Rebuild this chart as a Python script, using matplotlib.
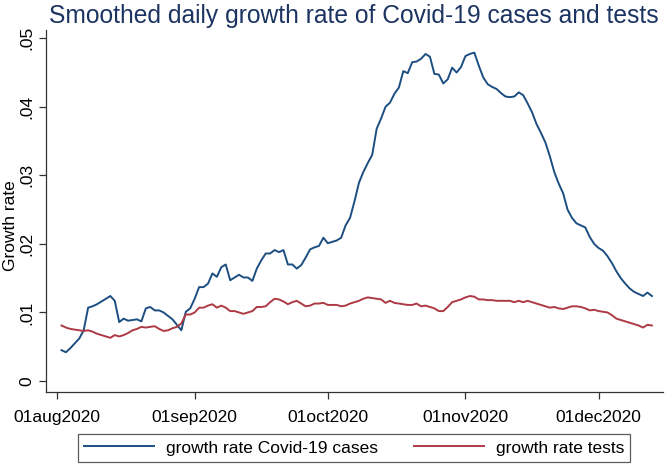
import numpy as np
import pandas as pd
import matplotlib
matplotlib.use('Agg')
import matplotlib.pyplot as plt

plt.rcParams['font.family'] = ['Liberation Sans', 'DejaVu Sans']

# Data (daily, 02aug2020 - 13dec2020)
start_date = '2020-08-02'
cases_growth = [
    0.0045, 0.0042, 0.0048, 0.0055, 0.0062, 0.0074, 0.0107, 0.0109, 0.0112, 0.0116,
    0.0120, 0.0124, 0.0117, 0.0086, 0.0091, 0.0088, 0.0089, 0.0090, 0.0087, 0.0106,
    0.0108, 0.0103, 0.0103, 0.0100, 0.0095, 0.0090, 0.0082, 0.0074, 0.0101, 0.0106,
    0.0120, 0.0137, 0.0137, 0.0142, 0.0157, 0.0152, 0.0166, 0.0170, 0.0147, 0.0151,
    0.0155, 0.0151, 0.0151, 0.0146, 0.0164, 0.0176, 0.0186, 0.0186, 0.0191, 0.0188,
    0.0191, 0.0170, 0.0170, 0.0164, 0.0169, 0.0180, 0.0192, 0.0195, 0.0197, 0.0209,
    0.0201, 0.0203, 0.0205, 0.0209, 0.0227, 0.0238, 0.0262, 0.0289, 0.0305, 0.0318,
    0.0330, 0.0368, 0.0383, 0.0400, 0.0406, 0.0419, 0.0428, 0.0452, 0.0449, 0.0465,
    0.0466, 0.0470, 0.0477, 0.0473, 0.0448, 0.0447, 0.0434, 0.0440, 0.0457, 0.0450,
    0.0458, 0.0474, 0.0477, 0.0479, 0.0460, 0.0443, 0.0433, 0.0429, 0.0426, 0.0420,
    0.0415, 0.0414, 0.0415, 0.0421, 0.0417, 0.0405, 0.0392, 0.0375, 0.0362, 0.0348,
    0.0328, 0.0305, 0.0288, 0.0274, 0.0250, 0.0238, 0.0230, 0.0227, 0.0224, 0.0210,
    0.0200, 0.0194, 0.0190, 0.0182, 0.0172, 0.0160, 0.0150, 0.0142, 0.0135, 0.0130,
    0.0127, 0.0124, 0.0129, 0.0124,
]
tests_growth = [
    0.0081, 0.0078, 0.0076, 0.0075, 0.0074, 0.0073, 0.0074, 0.0072, 0.0069, 0.0067,
    0.0065, 0.0063, 0.0067, 0.0065, 0.0067, 0.0070, 0.0074, 0.0076, 0.0079, 0.0078,
    0.0079, 0.0080, 0.0076, 0.0073, 0.0074, 0.0077, 0.0079, 0.0084, 0.0097, 0.0097,
    0.0100, 0.0107, 0.0107, 0.0110, 0.0112, 0.0107, 0.0110, 0.0107, 0.0102, 0.0102,
    0.0100, 0.0098, 0.0100, 0.0102, 0.0108, 0.0108, 0.0109, 0.0115, 0.0120, 0.0119,
    0.0116, 0.0112, 0.0115, 0.0117, 0.0113, 0.0109, 0.0110, 0.0113, 0.0113, 0.0114,
    0.0111, 0.0111, 0.0111, 0.0109, 0.0110, 0.0113, 0.0115, 0.0117, 0.0120, 0.0122,
    0.0121, 0.0120, 0.0119, 0.0114, 0.0117, 0.0114, 0.0113, 0.0112, 0.0111, 0.0111,
    0.0113, 0.0109, 0.0110, 0.0108, 0.0106, 0.0102, 0.0102, 0.0108, 0.0115, 0.0117,
    0.0119, 0.0122, 0.0124, 0.0123, 0.0119, 0.0119, 0.0118, 0.0118, 0.0117, 0.0117,
    0.0117, 0.0117, 0.0115, 0.0117, 0.0115, 0.0117, 0.0115, 0.0113, 0.0111, 0.0109,
    0.0107, 0.0108, 0.0106, 0.0105, 0.0107, 0.0109, 0.0109, 0.0108, 0.0106, 0.0103,
    0.0104, 0.0102, 0.0101, 0.0100, 0.0096, 0.0091, 0.0089, 0.0087, 0.0085, 0.0083,
    0.0081, 0.0078, 0.0082, 0.0081,
]
x_ticks = ['2020-08-01', '2020-09-01', '2020-10-01', '2020-11-01', '2020-12-01']
x_tick_labels = ['01aug2020', '01sep2020', '01oct2020', '01nov2020', '01dec2020']
y_ticks = [0, 0.01, 0.02, 0.03, 0.04, 0.05]
y_tick_labels = ['0', '.01', '.02', '.03', '.04', '.05']

dates = pd.date_range(start_date, periods=len(cases_growth), freq='D')

fig = plt.figure(figsize=(6.66, 4.67), dpi=100)
ax = fig.add_axes([0.069, 0.1606, 0.9265, 0.7752])

ax.plot(dates, cases_growth, color='#1d4e81', linewidth=1.4, label='growth rate Covid-19 cases')
ax.plot(dates, tests_growth, color='#ad3a44', linewidth=1.4, label='growth rate tests')

ax.set_xlim(pd.Timestamp('2020-07-29 12:00'), pd.Timestamp('2020-12-15 12:00'))
ax.set_ylim(-0.0016, 0.0512)

ax.set_xticks(pd.to_datetime(x_ticks))
ax.set_xticklabels(x_tick_labels, fontsize=12.5)
ax.set_yticks(y_ticks)
ax.set_yticklabels(y_tick_labels, fontsize=12.5, rotation=90, va='center')
ax.tick_params(axis='both', direction='out', length=5, width=0.9, color='#333333')
ax.tick_params(axis='x', pad=8)
ax.tick_params(axis='y', pad=3)

ax.spines['top'].set_visible(False)
ax.spines['right'].set_visible(False)
for s in ['left', 'bottom']:
    ax.spines[s].set_linewidth(0.9)
    ax.spines[s].set_color('#333333')

ax.set_ylabel('Growth rate', fontsize=12.5)
ax.yaxis.set_label_coords(-0.045, 0.46)

fig.text(0.0736, 0.966, 'Smoothed daily growth rate of Covid-19 cases and tests',
         fontsize=17.7, color='#1c3461', va='center', ha='left')

leg = fig.legend(loc='center', bbox_to_anchor=(0.532, 0.0407), ncol=2, fontsize=12.5,
                 frameon=True, fancybox=False, handlelength=4.0, handletextpad=0.7,
                 columnspacing=2.1, borderpad=0.35, edgecolor='#333333')
leg.get_frame().set_linewidth(0.9)

fig.savefig('out.png', dpi=100, facecolor='white')
